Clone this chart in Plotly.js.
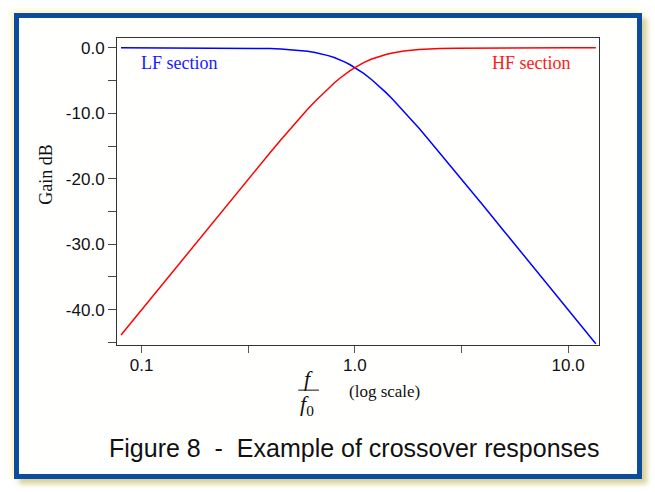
<!DOCTYPE html>
<html>
<head>
<meta charset="utf-8">
<script src="https://cdn.plot.ly/plotly-3.0.1.min.js"></script>
<style>
  html, body { margin: 0; padding: 0; background: #ffffff; width: 655px; height: 492px; overflow: hidden; }
  #frame {
    position: absolute; left: 14px; top: 13px; width: 618px; height: 456px;
    border: 5px solid #0b4c9f; background: #fffffe;
    box-shadow: 5px 5px 5px rgba(190,180,90,0.6), -2px -2px 6px rgba(245,235,150,0.65);
  }
  #chart { position: absolute; left: 0; top: 0; width: 655px; height: 492px; }
</style>
</head>
<body>
<div id="frame"></div>
<div id="chart"></div>
<script>
// Normalised frequency f/f0 (log axis)
const freq = [0.08, 0.1, 0.15, 0.2, 0.25, 0.3, 0.35, 0.4, 0.45, 0.5, 0.55, 0.6, 0.65, 0.7, 0.75, 0.8, 0.85, 0.9, 0.95, 1.0,
              1.1, 1.2, 1.3, 1.4, 1.5, 1.7, 2.0, 2.2, 2.5, 3.0, 3.5, 4.0, 5.0, 6.0, 7.0, 8.0, 10.0, 13.5];
// LF section gain (dB)
const lfGain = [0.0, 0.0, 0.0, -0.01, -0.02, -0.04, -0.07, -0.11, -0.17, -0.26, -0.38, -0.53, -0.71, -0.93, -1.19, -1.49, -1.82, -2.19, -2.59, -3.01,
                -3.92, -4.88, -5.86, -6.85, -7.83, -9.71, -12.3, -13.88, -16.03, -19.14, -21.79, -24.1, -27.97, -31.13, -33.81, -36.12, -40.0, -45.2];
// HF section gain (dB)
const hfGain = [-43.88, -40.0, -32.96, -27.97, -24.1, -20.95, -18.3, -16.03, -14.05, -12.3, -10.77, -9.4, -8.19, -7.13, -6.19, -5.37, -4.65, -4.02, -3.48, -3.01,
                -2.26, -1.71, -1.3, -1.01, -0.78, -0.49, -0.26, -0.18, -0.11, -0.05, -0.03, -0.02, -0.01, 0.0, 0.0, 0.0, 0.0, 0.0];
// Tick values / labels
const yTickVals = [0, -5, -10, -15, -20, -25, -30, -35, -40, -45];
const yTickText = ['0.0', '', '-10.0', '', '-20.0', '', '-30.0', '', '-40.0', ''];
const xTickVals = [0.1, 0.3162, 1.0, 3.162, 10.0];
const xTickText = ['0.1', '', '1.0', '', '10.0'];

const traces = [
  { x: freq, y: lfGain, mode: 'lines', line: { color: '#0000ff', width: 1.5 }, name: 'LF section', hoverinfo: 'skip' },
  { x: freq, y: hfGain, mode: 'lines', line: { color: '#ff0000', width: 1.5 }, name: 'HF section', hoverinfo: 'skip' }
];

const serif = 'Liberation Serif, DejaVu Serif, serif';
const sans = 'Liberation Sans, Arial, sans-serif';

const layout = {
  width: 655, height: 492,
  margin: { l: 116.5, r: 56, t: 38, b: 147 },
  paper_bgcolor: 'rgba(0,0,0,0)',
  plot_bgcolor: '#fffffe',
  showlegend: false,
  xaxis: {
    type: 'log', range: [Math.log10(0.0766), Math.log10(13.97)],
    tickvals: xTickVals, ticktext: xTickText,
    ticks: 'outside', ticklen: 7, tickcolor: '#555', tickwidth: 1,
    ticklabelstandoff: -2,
    showline: true, linecolor: '#333', linewidth: 1, mirror: true,
    showgrid: false, zeroline: false,
    tickfont: { family: sans, size: 17, color: '#111' }
  },
  yaxis: {
    range: [-45.4, 1.5],
    tickvals: yTickVals, ticktext: yTickText,
    ticks: 'outside', ticklen: 8, tickcolor: '#444', tickwidth: 1,
    showline: true, linecolor: '#333', linewidth: 1, mirror: true,
    showgrid: false, zeroline: false,
    tickfont: { family: sans, size: 17, color: '#111' }
  },
  annotations: [
    { xref: 'paper', yref: 'paper', x: 0.0466, y: 0.9186, xanchor: 'left', yanchor: 'middle', showarrow: false,
      text: 'LF section', font: { family: serif, size: 18, color: '#1a1aff' } },
    { xref: 'paper', yref: 'paper', x: 0.946, y: 0.9186, xanchor: 'right', yanchor: 'middle', showarrow: false,
      text: 'HF section', font: { family: serif, size: 18, color: '#ff1a1a' } },
    { xref: 'paper', yref: 'paper', x: -0.148, y: 0.557, xanchor: 'center', yanchor: 'middle', showarrow: false,
      textangle: -90, text: 'Gain dB', font: { family: serif, size: 18, color: '#111' } },
    { xref: 'paper', yref: 'paper', x: 0.397, y: -0.108, xanchor: 'center', yanchor: 'middle', showarrow: false,
      text: '<i>f</i>', font: { family: serif, size: 22, color: '#111' } },
    { xref: 'paper', yref: 'paper', x: 0.395, y: -0.195, xanchor: 'center', yanchor: 'middle', showarrow: false,
      text: '<i>f</i><sub>0</sub>', font: { family: serif, size: 22, color: '#111' } },
    { xref: 'paper', yref: 'paper', x: 0.554, y: -0.153, xanchor: 'center', yanchor: 'middle', showarrow: false,
      text: '(log scale)', font: { family: serif, size: 17, color: '#111' } },
    { xref: 'paper', yref: 'paper', x: 0.492, y: -0.3355, xanchor: 'center', yanchor: 'middle', showarrow: false,
      text: 'Figure 8&nbsp;&nbsp;-&nbsp;&nbsp;Example of crossover responses', font: { family: sans, size: 25, color: '#111' } }
  ],
  shapes: [
    { type: 'line', xref: 'paper', yref: 'paper', x0: 0.376, x1: 0.419, y0: -0.147, y1: -0.147,
      line: { color: '#111', width: 1 } }
  ]
};

Plotly.newPlot('chart', traces, layout, { staticPlot: true, displayModeBar: false });
</script>
</body>
</html>
